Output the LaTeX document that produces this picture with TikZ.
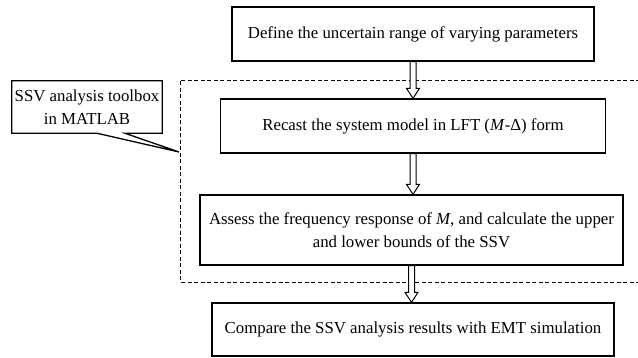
\documentclass[tikz,border=0pt]{standalone}
\usepackage{fontspec}
\setmainfont{Liberation Serif}
\usetikzlibrary{calc}
\tikzset{
  txt/.style={font=\fontsize{16.8}{23}\selectfont},
  stepbox/.style={txt, draw, line width=1.3pt, fill=white, align=center, inner sep=0pt},
  harrowstyle/.style={draw, line width=1pt, fill=white},
  region/.style={draw, line width=0.8pt, dash pattern=on 4pt off 2.5pt}
}
\newcommand\harrow[2]{%
  \path[harrowstyle] let \p1=(#1.south), \p2=(#2.north) in
    (\x1-3pt,\y1) -- (\x1-3pt,\y2+10pt) -- (\x1-6.5pt,\y2+10pt) -- (\x1,\y2)
    -- (\x1+6.5pt,\y2+10pt) -- (\x1+3pt,\y2+10pt) -- (\x1+3pt,\y1) -- cycle;}
\begin{document}
\begin{tikzpicture}[x=1pt,y=-1pt]
\useasboundingbox (0,0) rectangle (638,358);
% dashed region (right side beyond picture edge)
\coordinate (rtr) at (640,80);
\coordinate (rtl) at (180,80);
\coordinate (rbl) at (180,282);
\coordinate (rbr) at (640,282);
\draw[region] (rtr) -- (rtl) -- (rbl) -- (rbr);
\node[stepbox, minimum width=362, minimum height=54] (b1) at (413,34)
  {Define the uncertain range of varying parameters};
\node[stepbox, minimum width=385, minimum height=54] (b2) at (413,126)
  {Recast the system model in LFT (\textit{M}-Δ) form};
\node[stepbox, minimum width=423, minimum height=70] (b3) at (411.5,230)
  {Assess the frequency response of \textit{M}, and calculate the upper\\and lower bounds of the SSV};
\node[stepbox, minimum width=402, minimum height=53] (b4) at (413,329.5)
  {Compare the SSV analysis results with EMT simulation};
\harrow{b1}{b2}
\harrow{b2}{b3}
\harrow{b3}{b4}
% callout
\node[txt, align=center, inner sep=0pt, minimum width=150, minimum height=52] (ssv) at (87,107)
  {\phantom{SSV analysis toolbox}};
\coordinate (tip) at (179,152);
\draw[line width=1.3pt, fill=white, line join=miter]
  (ssv.north west) -- (ssv.north east) -- (ssv.south east)
  -- ($(ssv.south west)+(113,0)$) -- (tip) -- ($(ssv.south west)+(85,0)$)
  -- (ssv.south west) -- cycle;
\node[txt, align=center, inner sep=0pt] (ssvtext) at (ssv) {SSV analysis toolbox\\in MATLAB};
\end{tikzpicture}
\end{document}
